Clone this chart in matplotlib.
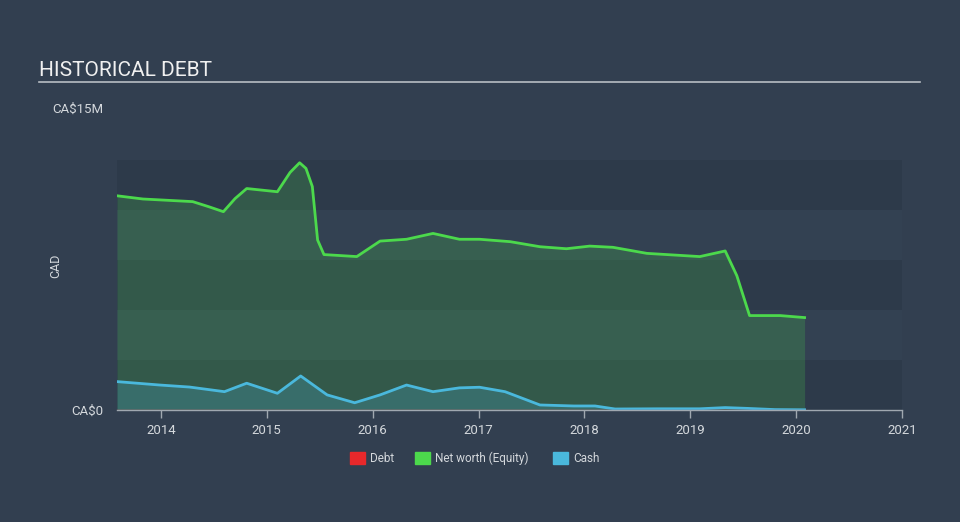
import matplotlib.pyplot as plt
from matplotlib.patches import Rectangle

plt.rcParams['font.family'] = ['Roboto', 'DejaVu Sans']

# --- Daten (Werte in Mio. CA$, x in Dezimaljahren) ---
nw_jahr = [2013.585, 2013.83, 2014.30, 2014.45, 2014.59, 2014.70, 2014.81, 2015.10,
           2015.22, 2015.31, 2015.37, 2015.43, 2015.48, 2015.54, 2015.85, 2016.07,
           2016.32, 2016.57, 2016.82, 2017.01, 2017.30, 2017.58, 2017.83, 2018.05,
           2018.27, 2018.59, 2019.09, 2019.33, 2019.44, 2019.56, 2019.85, 2020.08]
nw_wert = [10.64, 10.48, 10.35, 10.10, 9.85, 10.50, 11.00, 10.84,
           11.80, 12.28, 12.00, 11.10, 8.44, 7.72, 7.62, 8.39,
           8.48, 8.77, 8.48, 8.48, 8.36, 8.11, 8.01, 8.14,
           8.08, 7.78, 7.62, 7.90, 6.67, 4.69, 4.69, 4.59]

cash_jahr = [2013.585, 2013.99, 2014.27, 2014.60, 2014.81, 2015.10, 2015.32, 2015.57,
             2015.83, 2016.07, 2016.32, 2016.57, 2016.82, 2017.01, 2017.25, 2017.58,
             2017.90, 2018.10, 2018.29, 2018.70, 2019.09, 2019.33, 2019.54, 2019.80,
             2020.08]
cash_wert = [1.41, 1.24, 1.14, 0.91, 1.33, 0.83, 1.69, 0.75,
             0.36, 0.75, 1.24, 0.91, 1.10, 1.13, 0.91, 0.25,
             0.20, 0.20, 0.05, 0.06, 0.06, 0.12, 0.08, 0.02,
             0.01]

debt_jahr = [2013.585, 2020.08]
debt_wert = [0.02, 0.02]

jahre = [2014, 2015, 2016, 2017, 2018, 2019, 2020, 2021]

# --- Farben ---
hintergrund = '#323f50'
band_dunkel = '#2d3a4a'
band_hell = '#334152'
gruen = '#4cd94c'
blau = '#4ab8dc'
rot = '#e8282b'
text_farbe = '#d4d8dc'

fig = plt.figure(figsize=(9.6, 5.22), dpi=100, facecolor=hintergrund)
W, H = 960, 522
ax = fig.add_axes([117 / W, (H - 410) / H, 785 / W, 302 / H])
ax.set_facecolor('none')
ax.set_xlim(2013.585, 2021.0)
ax.set_ylim(0, 15)

# Hintergrundbänder (nur bis ~12.4M)
band_h = 15 * 50 / 302
for i in range(5):
    farbe = band_dunkel if i % 2 == 0 else band_hell
    ax.axhspan(i * band_h, (i + 1) * band_h, color=farbe, zorder=0, lw=0)

# --- Flächen und Linien ---
ax.fill_between(nw_jahr, nw_wert, 0, color=gruen, alpha=0.2, lw=0, zorder=1)
ax.plot(nw_jahr, nw_wert, color=gruen, lw=2, zorder=3, solid_joinstyle='round')
ax.fill_between(cash_jahr, cash_wert, 0, color=blau, alpha=0.22, lw=0, zorder=2)
ax.plot(cash_jahr, cash_wert, color=blau, lw=2, zorder=4, solid_joinstyle='round')
ax.plot(debt_jahr, debt_wert, color=rot, lw=1, alpha=0.6, zorder=5)

# --- Achsen ---
for s in ['top', 'right', 'left']:
    ax.spines[s].set_visible(False)
ax.spines['bottom'].set_color('#a0a8b0')
ax.spines['bottom'].set_linewidth(1)
ax.set_xticks(jahre)
ax.set_xticklabels([str(j) for j in jahre])
ax.tick_params(axis='x', colors='#a0a8b0', length=6, width=1, labelcolor=text_farbe,
               labelsize=9.5, pad=4)
ax.set_yticks([0, 15])
ax.set_yticklabels(['CA$0', 'CA$15M'])
ax.tick_params(axis='y', length=0, labelcolor=text_farbe, labelsize=9.5, pad=10)

# Achsentitel links
fig.text(56 / W, 1 - 266 / H, 'CAD', color=text_farbe, fontsize=9, rotation=90,
         va='center', ha='center')

# --- Titel ---
fig.text(39 / W, 1 - 70 / H, 'HISTORICAL DEBT', color='#f0f0f0', fontsize=15,
         va='center', ha='left')
fig.add_artist(plt.Line2D([39 / W, 920 / W], [1 - 82 / H, 1 - 82 / H],
                          color='#b8bec4', lw=1.2))

# --- Legende ---
legende = [(350, 'Debt', rot), (415, 'Net worth (Equity)', gruen), (553, 'Cash', blau)]
for x0, txt, c in legende:
    fig.add_artist(Rectangle((x0 / W, 1 - 464 / H), 15 / W, 12 / H, color=c,
                             transform=fig.transFigure))
    fig.text((x0 + 20) / W, 1 - 458 / H, txt, color=text_farbe, fontsize=8.5,
             va='center', ha='left')

plt.savefig('out.png', dpi=100, facecolor=hintergrund)
